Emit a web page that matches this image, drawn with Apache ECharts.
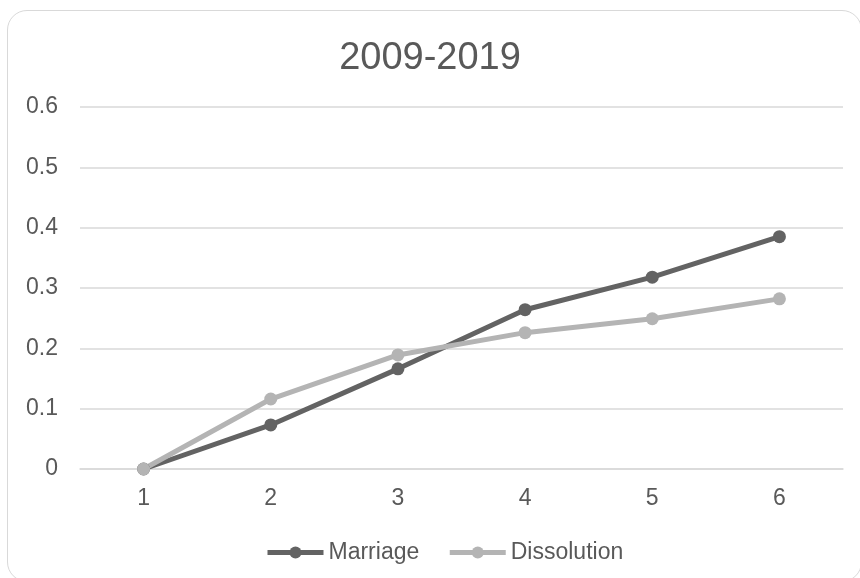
<!DOCTYPE html>
<html>
<head>
<meta charset="utf-8">
<script src="https://cdn.jsdelivr.net/npm/echarts@6/dist/echarts.min.js"></script>
<style>
  html, body { margin: 0; padding: 0; background: #fff; overflow: hidden; }
  #frame { position: absolute; left: 7px; top: 10px; width: 855px; height: 572px;
           border: 1.5px solid #d9d9d9; border-radius: 20px; box-sizing: border-box; }
  #chart { position: absolute; left: 0; top: 0; width: 860px; height: 578px; }
</style>
</head>
<body>
<div id="frame"></div>
<div id="chart"></div>
<script>
const categories = ['1', '2', '3', '4', '5', '6'];
const marriage = [0, 0.073, 0.166, 0.264, 0.318, 0.385];
const dissolution = [0, 0.116, 0.189, 0.226, 0.249, 0.282];
const yTicks = [0, 0.1, 0.2, 0.3, 0.4, 0.5, 0.6];

const FONT = '"Liberation Sans", Arial, sans-serif';
const TEXT = '#595959';

const chart = echarts.init(document.getElementById('chart'), null, { renderer: 'canvas' });

function lineSeries(name, data, color) {
  return {
    name, type: 'line', data,
    symbol: 'circle', symbolSize: 13,
    lineStyle: { color, width: 5 },
    itemStyle: { color },
    emphasis: { disabled: true },
    animation: false
  };
}

chart.setOption({
  animation: false,
  title: {
    text: '2009-2019', left: 'center', top: 35,
    textStyle: { fontFamily: FONT, fontSize: 38, fontWeight: 'normal', color: TEXT }
  },
  legend: {
    bottom: 14, left: 265, padding: 0,
    itemWidth: 56, itemHeight: 15, itemGap: 28,
    lineStyle: { width: 5 },
    textStyle: { fontFamily: FONT, fontSize: 23, color: TEXT },
    data: ['Marriage', 'Dissolution']
  },
  grid: { left: 80, right: 17, top: 107, bottom: 109 },
  xAxis: {
    type: 'category', data: categories, boundaryGap: true,
    axisLine: { show: true, lineStyle: { color: '#d9d9d9', width: 1.5 } },
    axisTick: { show: false },
    axisLabel: { fontFamily: FONT, fontSize: 23, color: TEXT, margin: 18 }
  },
  yAxis: {
    type: 'value', min: yTicks[0], max: yTicks[yTicks.length - 1], interval: 0.1,
    axisLine: { show: false }, axisTick: { show: false },
    axisLabel: {
      fontFamily: FONT, fontSize: 23, color: TEXT, margin: 22,
      formatter: v => String(+v.toFixed(1))
    },
    splitLine: { lineStyle: { color: '#d9d9d9', width: 1.5 } }
  },
  series: [
    lineSeries('Marriage', marriage, '#636363'),
    lineSeries('Dissolution', dissolution, '#b4b4b4')
  ]
});
</script>
</body>
</html>
